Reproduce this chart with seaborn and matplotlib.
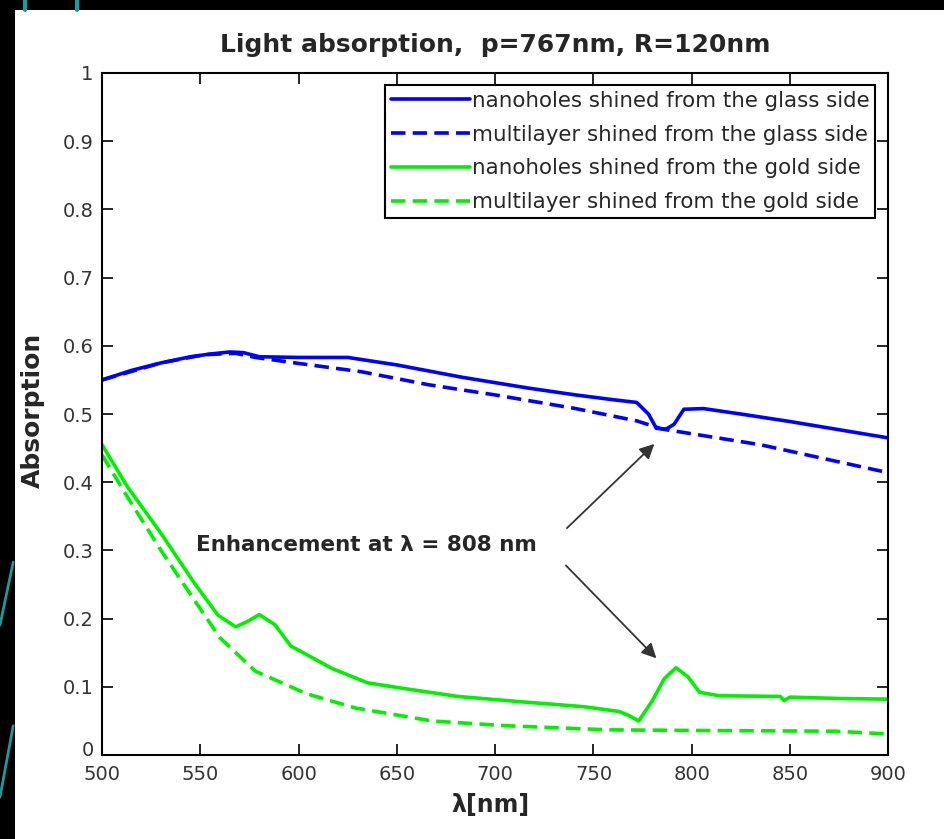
# Light absorption spectra: nanohole array vs multilayer, glass / gold side
import seaborn as sns
import matplotlib.pyplot as plt
import matplotlib.transforms as mtransforms
from matplotlib.patches import Rectangle
from matplotlib.lines import Line2D

# nanoholes, shined from the glass side
wl_holes_glass = [500, 515, 530, 545, 555, 565, 572, 580, 600, 625, 650, 683, 717, 741,
                  760, 772, 778, 782, 787, 791, 796, 806, 825, 850, 875, 900]
abs_holes_glass = [0.550, 0.564, 0.575, 0.584, 0.588, 0.591, 0.590, 0.584, 0.583, 0.583,
                   0.572, 0.554, 0.538, 0.528, 0.521, 0.517, 0.500, 0.479, 0.478, 0.485,
                   0.507, 0.508, 0.500, 0.489, 0.477, 0.465]

# multilayer, shined from the glass side
wl_multi_glass = [500, 530, 552, 568, 578, 598, 632, 666, 700, 741, 772, 785, 835, 900]
abs_multi_glass = [0.550, 0.575, 0.587, 0.589, 0.583, 0.575, 0.562, 0.543, 0.528, 0.508,
                   0.490, 0.478, 0.455, 0.414]

# nanoholes, shined from the gold side
wl_holes_gold = [500, 513, 530, 547, 559, 568, 574, 580, 588, 596, 617, 635, 655, 681,
                 714, 745, 763, 768, 773, 780, 786, 792, 798, 804, 814, 845, 847, 850,
                 875, 900]
abs_holes_gold = [0.455, 0.393, 0.325, 0.252, 0.205, 0.188, 0.196, 0.206, 0.191, 0.160,
                  0.127, 0.106, 0.097, 0.086, 0.078, 0.071, 0.064, 0.058, 0.050, 0.080,
                  0.112, 0.128, 0.115, 0.092, 0.087, 0.086, 0.080, 0.085, 0.083, 0.082]

# multilayer, shined from the gold side
wl_multi_gold = [500, 513, 530, 547, 560, 578, 604, 629, 668, 706, 758, 809, 873, 900]
abs_multi_gold = [0.440, 0.378, 0.300, 0.227, 0.172, 0.123, 0.090, 0.069, 0.050, 0.043,
                  0.037, 0.036, 0.035, 0.031]

labels = ["nanoholes shined from the glass side",
          "multilayer shined from the glass side",
          "nanoholes shined from the gold side",
          "multilayer shined from the gold side"]

x_ticks = [500, 550, 600, 650, 700, 750, 800, 850, 900]
y_ticks = [0, 0.1, 0.2, 0.3, 0.4, 0.5, 0.6, 0.7, 0.8, 0.9, 1]
y_tick_labels = ["0", "0.1", "0.2", "0.3", "0.4", "0.5", "0.6", "0.7", "0.8", "0.9", "1"]

sns.set_style("ticks")
plt.rcParams['font.family'] = ['DejaVu Sans']

fig = plt.figure(figsize=(9.45, 8.39), dpi=100, facecolor='black')
fig.add_artist(Rectangle((0.016, 0), 0.984, 0.988, transform=fig.transFigure,
                         facecolor='white', edgecolor='none', zorder=0))
# teal slide decorations on the dark border
teal = '#1f9a9a'
for x0 in [0.026, 0.082]:
    fig.add_artist(Line2D([x0, x0], [0.988, 1.0], transform=fig.transFigure,
                          color=teal, lw=3))
fig.add_artist(Line2D([0.0, 0.014], [0.255, 0.33], transform=fig.transFigure, color=teal, lw=2))
fig.add_artist(Line2D([0.0, 0.014], [0.05, 0.135], transform=fig.transFigure, color=teal, lw=2))

ax = fig.add_axes([0.108, 0.100, 0.832, 0.813])
ax.set_facecolor('white')

blue = '#0000ff'
green = '#00f000'
dash = (0, (4, 2))
lw = 2.6

sns.lineplot(x=wl_holes_glass, y=abs_holes_glass, color=blue, lw=lw, label=labels[0], ax=ax)
sns.lineplot(x=wl_multi_glass, y=abs_multi_glass, color=blue, lw=lw, linestyle=dash,
             label=labels[1], ax=ax)
sns.lineplot(x=wl_holes_gold, y=abs_holes_gold, color=green, lw=lw, label=labels[2], ax=ax)
sns.lineplot(x=wl_multi_gold, y=abs_multi_gold, color=green, lw=lw, linestyle=dash,
             label=labels[3], ax=ax)

ax.set_xlim(500, 900)
ax.set_ylim(0, 1)
ax.set_xticks(x_ticks)
ax.set_xticklabels([str(t) for t in x_ticks])
ax.set_yticks(y_ticks)
ax.set_yticklabels(y_tick_labels)
ax.tick_params(direction='in', length=8, width=1.2, top=True, right=True,
               labelsize=14, pad=6, colors='black')
ax.tick_params(axis='x', pad=7)
for t in ax.get_xticklabels() + ax.get_yticklabels():
    t.set_color('#333333')
# lift the y "0" a little so it sits above the "500", as in the original
zero_lbl = ax.get_yticklabels()[0]
zero_lbl.set_transform(zero_lbl.get_transform() +
                       mtransforms.ScaledTranslation(0, 5 / 72, fig.dpi_scale_trans))
for s in ax.spines.values():
    s.set_visible(True)
    s.set_color('black')
    s.set_linewidth(1.5)

ax.set_xlabel("λ[nm]", fontsize=17, fontweight='bold')
ax.xaxis.set_label_coords(0.494, -0.056)
ax.set_ylabel("Absorption", fontsize=18, fontweight='bold')
ax.yaxis.set_label_coords(-0.073, 0.506)
fig.text(0.524, 0.946, "Light absorption,  p=767nm, R=120nm", fontsize=18,
         fontweight='bold', ha='center', va='center')

ax.text(548, 0.308, "Enhancement at λ = 808 nm", fontsize=15.5, fontweight='bold',
        ha='left', va='center')
ax.annotate("", xy=(782, 0.459), xytext=(735.5, 0.33),
            arrowprops=dict(arrowstyle='-|>', color='#333333', lw=1.3, mutation_scale=22))
ax.annotate("", xy=(783, 0.139), xytext=(735, 0.281),
            arrowprops=dict(arrowstyle='-|>', color='#333333', lw=1.3, mutation_scale=22))

leg = ax.legend(loc='upper right', bbox_to_anchor=(0.983, 0.982), borderaxespad=0,
                fontsize=15.4, handlelength=3.7, handletextpad=0.1, labelspacing=0.65,
                borderpad=0.25, fancybox=False, framealpha=1)
leg.get_frame().set_edgecolor('black')
leg.get_frame().set_linewidth(1.5)

plt.savefig("out.png", dpi=100, facecolor=fig.get_facecolor())
